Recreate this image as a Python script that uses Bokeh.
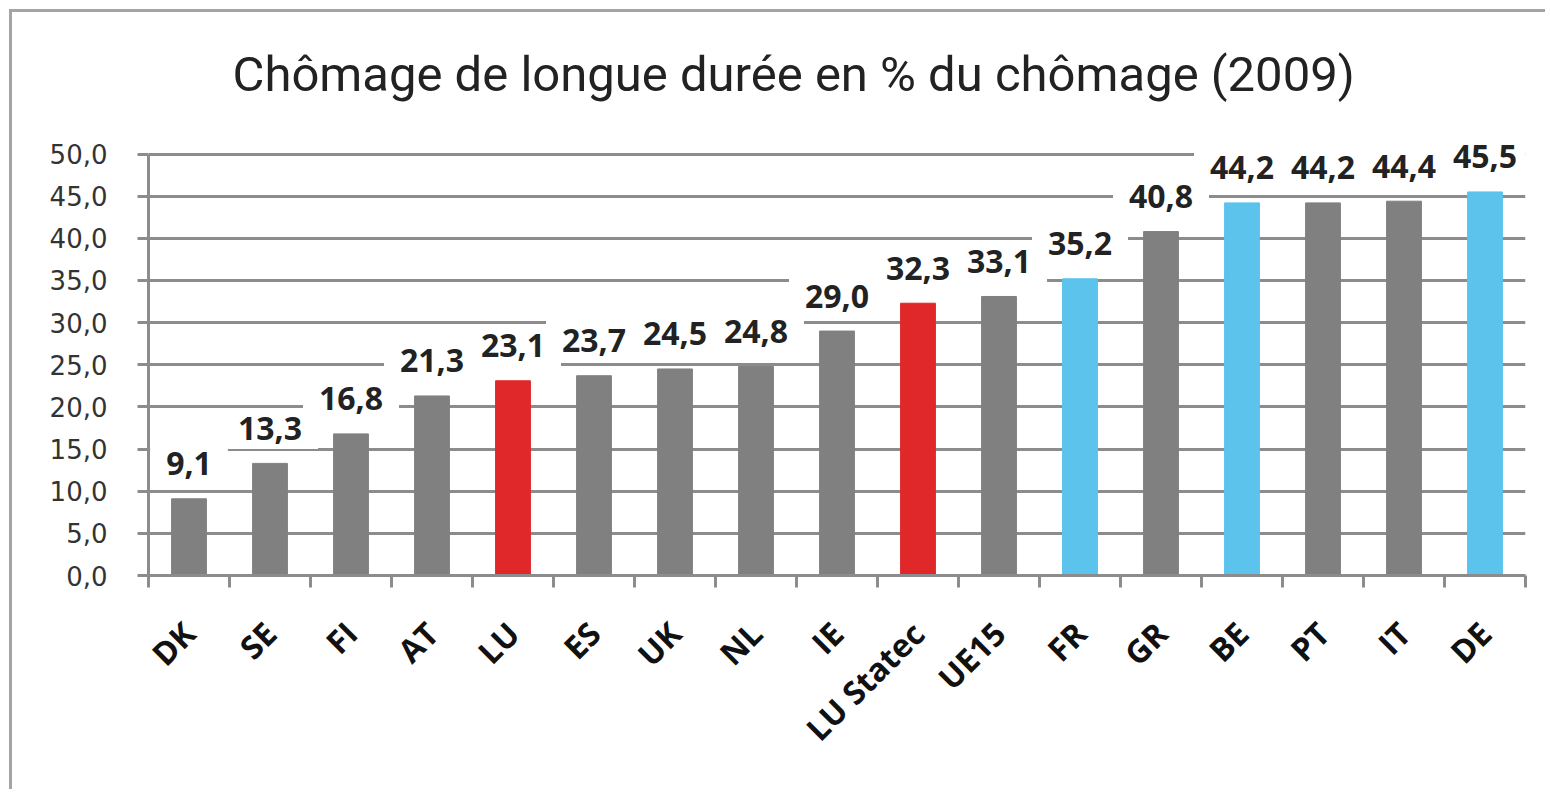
import math
from bokeh.plotting import figure
from bokeh.models import (ColumnDataSource, Range1d, FixedTicker, CustomJSTickFormatter, Title, Label)
from bokeh.embed import file_html
from bokeh.resources import INLINE

countries = ["DK", "SE", "FI", "AT", "LU", "ES", "UK", "NL", "IE", "LU Statec",
             "UE15", "FR", "GR", "BE", "PT", "IT", "DE"]
values = [9.1, 13.3, 16.8, 21.3, 23.1, 23.7, 24.5, 24.8, 29.0, 32.3,
          33.1, 35.2, 40.8, 44.2, 44.2, 44.4, 45.5]
groups = ["other", "other", "other", "other", "lu", "other", "other", "other", "other", "lu",
          "other", "focus", "other", "focus", "other", "other", "focus"]
y_ticks = [0, 5, 10, 15, 20, 25, 30, 35, 40, 45, 50]
title_text = "Chômage de longue durée en % du chômage (2009)"

palette = {"other": "#808080", "lu": "#e0282a", "focus": "#5bc3ec"}

xs = list(range(len(countries)))
labels_txt = [f"{v:.1f}".replace(".", ",") for v in values]
src = ColumnDataSource(dict(
    x=xs,
    top=values,
    color=[palette[g] for g in groups],
))

GRID = "#8c8c8c"

p = figure(width=1536, height=780, output_backend="svg", toolbar_location=None,
           x_range=Range1d(-0.5, len(countries) - 0.5), y_range=Range1d(0, 53.5),
           min_border_left=136, min_border_right=23, min_border_top=112, min_border_bottom=217,
           background_fill_color="white", border_fill_color="white", outline_line_color=None)
p.styles = {"border-top": "3px solid #a4a4a4", "border-left": "3px solid #a4a4a4",
            "margin-left": "9px", "margin-top": "9px"}

p.title = Title(text=title_text, text_font="Roboto", text_font_size="49px",
                text_font_style="normal", text_color="#222222", align="left",
                offset=84, standoff=43)

p.vbar(x="x", top="top", width=0.43, color="color", source=src)

for xi, v, t in zip(xs, values, labels_txt):
    p.add_layout(Label(x=xi, y=v, text=t, y_offset=35,
                       text_align="center", text_baseline="middle",
                       text_font="Open Sans", text_font_style="bold", text_font_size="32px",
                       text_color="#222222", background_fill_color="white",
                       padding=(16, 9)))

# y axis
p.yaxis.ticker = FixedTicker(ticks=y_ticks)
p.yaxis.bounds = (0, 50)
p.yaxis.formatter = CustomJSTickFormatter(code="return tick.toFixed(1).replace('.', ',');")
p.yaxis.axis_line_color = GRID
p.yaxis.axis_line_width = 3
p.yaxis.major_tick_line_color = GRID
p.yaxis.major_tick_line_width = 3
p.yaxis.major_tick_out = 11
p.yaxis.major_tick_in = 0
p.yaxis.minor_tick_line_color = None
p.yaxis.major_label_text_font = "DejaVu Sans"
p.yaxis.major_label_text_font_size = "26px"
p.yaxis.major_label_text_color = "#333333"
p.yaxis.major_label_standoff = 30

# x axis
p.xaxis.ticker = FixedTicker(ticks=xs, minor_ticks=[i - 0.5 for i in range(len(countries) + 1)])
p.xaxis.formatter = CustomJSTickFormatter(args=dict(names=countries),
                                          code="return names[Math.round(tick)];")
p.xaxis.axis_line_color = GRID
p.xaxis.axis_line_width = 3
p.xaxis.major_tick_line_color = None
p.xaxis.major_tick_out = 0
p.xaxis.major_tick_in = 0
p.xaxis.minor_tick_line_color = GRID
p.xaxis.minor_tick_line_width = 3
p.xaxis.minor_tick_out = 12
p.xaxis.minor_tick_in = 0
p.xaxis.major_label_orientation = math.pi / 4
p.xaxis.major_label_text_font = "Open Sans"
p.xaxis.major_label_text_font_style = "bold"
p.xaxis.major_label_text_font_size = "32px"
p.xaxis.major_label_text_color = "#111111"
p.xaxis.major_label_standoff = 40

p.xgrid.grid_line_color = None
p.ygrid.ticker = FixedTicker(ticks=y_ticks)
p.ygrid.bounds = (0, 50)
p.ygrid.grid_line_color = GRID
p.ygrid.grid_line_width = 3

open("out.html", "w").write(file_html(p, INLINE))
